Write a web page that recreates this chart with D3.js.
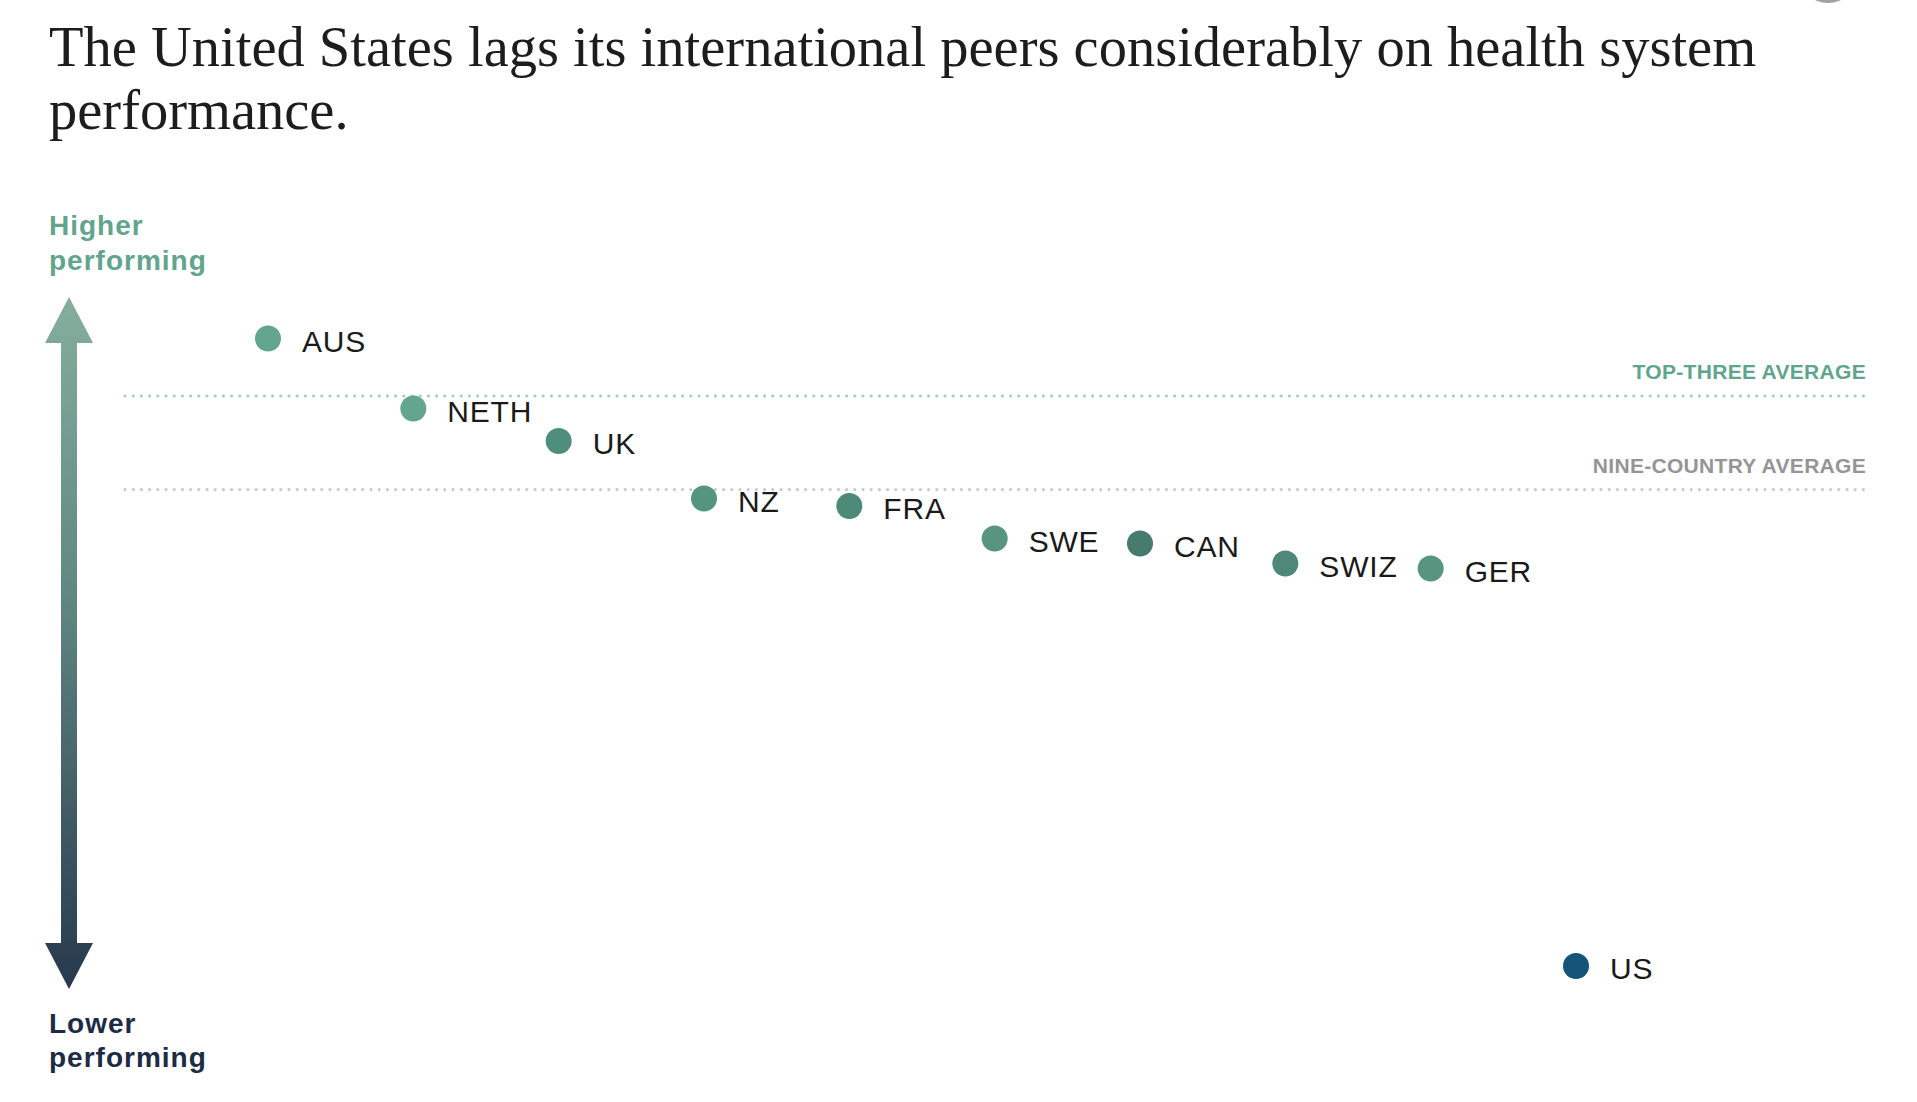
<!DOCTYPE html>
<html>
<head>
<meta charset="utf-8">
<script src="https://cdn.jsdelivr.net/npm/d3@7"></script>
<style>
    html, body { margin: 0; padding: 0; background: #ffffff; }
    svg { display: block; }
</style>
</head>
<body>
<div id="chart"></div>
<script>
// countries ranked left to right
const countries = ["AUS", "NETH", "UK", "NZ", "FRA", "SWE", "CAN", "SWIZ", "GER", "US"];
// overall performance score, relative to the nine-country average
const scores = [0.61, 0.33, 0.20, -0.03, -0.06, -0.19, -0.21, -0.29, -0.31, -1.90];
const dotColors = ["#63a58f", "#63a58f", "#4f8e7b", "#55947f", "#4d8a77", "#589581", "#467b6e", "#4f8878", "#589581", "#145478"];
const titleLines = ["The United States lags its international peers considerably on health system", "performance."];
const topLabel = ["Higher", "performing"];
const bottomLabel = ["Lower", "performing"];

var ch = ch || {};

ch.width = 1917;
ch.height = 1102;

ch.init = function () {
    ch.svg = d3.select("#chart")
        .append("svg")
        .attr("width", ch.width)
        .attr("height", ch.height);

    ch.x = d3.scalePoint().domain(countries).range([268, 1576]);
    ch.y = d3.scaleLinear().domain([-2, 0.8]).range([991, 291]);

    ch.drawTitle();
    ch.drawArrow();
    ch.drawAverages();
    ch.drawDots();
};

ch.drawTitle = function () {
    ch.svg.append("g")
        .selectAll("text")
        .data(titleLines)
        .enter()
        .append("text")
        .attr("x", 49)
        .attr("y", (d, i) => 66 + i * 63)
        .style("font-family", "'Liberation Serif', 'DejaVu Serif', serif")
        .style("font-size", "56.5px")
        .style("fill", "#1d1d1d")
        .text(d => d);

    // little grey button cut off at the top edge
    ch.svg.append("circle")
        .attr("cx", 1828)
        .attr("cy", -27)
        .attr("r", 30)
        .style("fill", "#a3a3a3");
};

ch.drawArrow = function () {
    const cx = 69;
    const top = 297, bottom = 989;
    const head = 46, half = 24, shaft = 8;

    let grad = ch.svg.append("defs")
        .append("linearGradient")
        .attr("id", "arrowGrad")
        .attr("gradientUnits", "userSpaceOnUse")
        .attr("x1", 0).attr("y1", top)
        .attr("x2", 0).attr("y2", bottom);
    grad.append("stop").attr("offset", "0%").attr("stop-color", "#85ae9d");
    grad.append("stop").attr("offset", "45%").attr("stop-color", "#5f8580");
    grad.append("stop").attr("offset", "100%").attr("stop-color", "#27384d");

    const path = d3.path();
    path.moveTo(cx, top);
    path.lineTo(cx + half, top + head);
    path.lineTo(cx + shaft, top + head);
    path.lineTo(cx + shaft, bottom - head);
    path.lineTo(cx + half, bottom - head);
    path.lineTo(cx, bottom);
    path.lineTo(cx - half, bottom - head);
    path.lineTo(cx - shaft, bottom - head);
    path.lineTo(cx - shaft, top + head);
    path.lineTo(cx - half, top + head);
    path.closePath();

    ch.svg.append("path")
        .attr("d", path.toString())
        .style("fill", "url(#arrowGrad)");

    const labelFont = "'Liberation Sans', Arial, sans-serif";

    ch.svg.append("g")
        .selectAll("text")
        .data(topLabel)
        .enter()
        .append("text")
        .attr("x", 49)
        .attr("y", (d, i) => 235 + i * 35)
        .style("font-family", labelFont)
        .style("font-weight", "bold")
        .style("font-size", "28px")
        .style("letter-spacing", "1px")
        .style("fill", "#62a48d")
        .text(d => d);

    ch.svg.append("g")
        .selectAll("text")
        .data(bottomLabel)
        .enter()
        .append("text")
        .attr("x", 49)
        .attr("y", (d, i) => 1033 + i * 34)
        .style("font-family", labelFont)
        .style("font-weight", "bold")
        .style("font-size", "28px")
        .style("letter-spacing", "1px")
        .style("fill", "#1c2c44")
        .text(d => d);
};

ch.drawAverages = function () {
    const topThree = d3.mean(scores.slice(0, 3));
    const nine = d3.mean(scores.slice(0, 9));

    const lines = [
        {label: "TOP-THREE AVERAGE", value: topThree, dot: "#9fd0bd", text: "#5fa48c"},
        {label: "NINE-COUNTRY AVERAGE", value: nine, dot: "#c9c9c9", text: "#959595"}
    ];

    let g = ch.svg.append("g").attr("class", "averages");

    g.selectAll("line")
        .data(lines)
        .enter()
        .append("line")
        .attr("x1", 125)
        .attr("x2", 1864)
        .attr("y1", d => ch.y(d.value))
        .attr("y2", d => ch.y(d.value))
        .style("stroke", d => d.dot)
        .style("stroke-width", 3.2)
        .style("stroke-linecap", "round")
        .style("stroke-dasharray", "0 8.2");

    g.selectAll("text")
        .data(lines)
        .enter()
        .append("text")
        .attr("x", 1866)
        .attr("y", d => ch.y(d.value) - 17)
        .attr("text-anchor", "end")
        .style("font-family", "'Liberation Sans', Arial, sans-serif")
        .style("font-weight", "bold")
        .style("font-size", "21px")
        .style("letter-spacing", "0.3px")
        .style("fill", d => d.text)
        .text(d => d.label);
};

ch.drawDots = function () {
    const data = countries.map((c, i) => ({name: c, score: scores[i], color: dotColors[i]}));

    let pts = ch.svg.append("g")
        .selectAll(".country")
        .data(data)
        .enter()
        .append("g")
        .attr("class", "country")
        .attr("transform", d => `translate(${ch.x(d.name)},${ch.y(d.score)})`);

    pts.append("circle")
        .attr("r", 13)
        .style("fill", d => d.color);

    pts.append("text")
        .attr("x", 34)
        .attr("y", 13)
        .style("font-family", "'Liberation Sans', Arial, sans-serif")
        .style("font-size", "30px")
        .style("letter-spacing", "0.8px")
        .style("fill", "#1a1a1a")
        .text(d => d.name);
};

ch.init();
</script>
</body>
</html>
